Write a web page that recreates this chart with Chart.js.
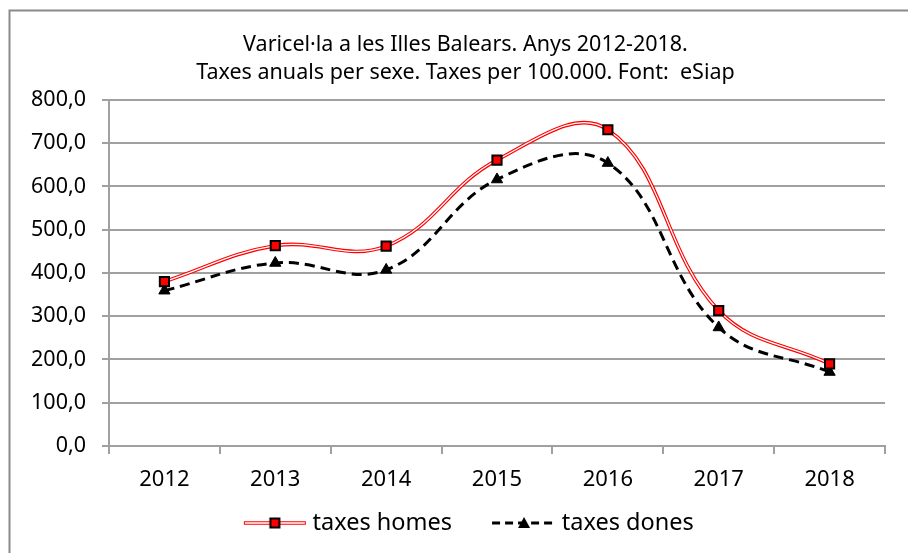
<!DOCTYPE html>
<html>
<head>
<meta charset="utf-8">
<script src="https://cdn.jsdelivr.net/npm/chart.js@4/dist/chart.umd.min.js"></script>
<style>
  html, body { margin: 0; padding: 0; background: #fff; }
  #wrap { width: 908px; height: 553px; }
</style>
</head>
<body>
<div id="wrap"><canvas id="chart" width="908" height="553"></canvas></div>
<script>
// Dades llegides del gràfic
const years = ['2012', '2013', '2014', '2015', '2016', '2017', '2018'];
const taxesHomes = [380, 463, 462, 661, 731, 313, 190];
const taxesDones = [359, 423, 407, 616, 654, 274, 171];
const yTickLabels = ['0,0', '100,0', '200,0', '300,0', '400,0', '500,0', '600,0', '700,0', '800,0'];
const titleLines = ['Varicel·la a les Illes Balears. Anys 2012-2018.', 'Taxes anuals per sexe. Taxes per 100.000. Font:  eSiap'];

const FONT = "'Noto Sans', 'Open Sans', sans-serif";
const GRID = '#a0a0a0';

// Mostres de llegenda (línia + marcador), amb un buit a l'esquerra per separar els elements
function legendSample(kind) {
    const c = document.createElement('canvas');
    c.width = 100; c.height = 16;
    const g = c.getContext('2d');
    const x0 = 36;
    if (kind === 'homes') {
        g.strokeStyle = '#ff0000'; g.lineWidth = 3.6;
        g.beginPath(); g.moveTo(x0 + 1, 8); g.lineTo(x0 + 63, 8); g.stroke();
        g.strokeStyle = '#ffffff'; g.lineWidth = 1.3;
        g.beginPath(); g.moveTo(x0 + 2, 8); g.lineTo(x0 + 62, 8); g.stroke();
        g.fillStyle = '#ff0000'; g.strokeStyle = '#000'; g.lineWidth = 2;
        g.fillRect(x0 + 27.5, 3.5, 9, 9); g.strokeRect(x0 + 27.5, 3.5, 9, 9);
    } else {
        g.strokeStyle = '#000'; g.lineWidth = 3; g.setLineDash([8, 5]);
        g.beginPath(); g.moveTo(x0, 8); g.lineTo(x0 + 64, 8); g.stroke();
        g.setLineDash([]);
        g.fillStyle = '#000';
        g.beginPath(); g.moveTo(x0 + 32, 2); g.lineTo(x0 + 38, 13); g.lineTo(x0 + 26, 13); g.closePath(); g.fill();
    }
    return c;
}

const frame = {
    id: 'frame',
    beforeDraw(chart) {
        const ctx = chart.ctx;
        ctx.save();
        ctx.fillStyle = '#fff';
        ctx.fillRect(0, 0, chart.width, chart.height);
        ctx.strokeStyle = '#8a8a8a';
        ctx.lineWidth = 2;
        ctx.strokeRect(9.5, 10.5, 920, 560);
        ctx.restore();
    }
};

const ctx = document.getElementById('chart').getContext('2d');

new Chart(ctx, {
    type: 'line',
    data: {
        labels: years,
        datasets: [
            {
                label: 'taxes homes',
                data: taxesHomes,
                showLine: false,
                pointStyle: 'rect',
                pointRadius: 6.5,
                pointBackgroundColor: '#ff0000',
                pointBorderColor: '#000',
                pointBorderWidth: 2,
                order: 0
            },
            {
                label: 'taxes dones',
                data: taxesDones,
                borderColor: '#000',
                borderWidth: 3,
                borderDash: [10, 6],
                tension: 0.4,
                pointStyle: 'triangle',
                pointRadius: 6.5,
                pointBackgroundColor: '#000',
                pointBorderColor: '#000',
                pointBorderWidth: 1,
                order: 1
            },
            {
                label: 'homes-core',
                data: taxesHomes,
                borderColor: '#ffffff',
                borderWidth: 1.3,
                tension: 0.4,
                pointRadius: 0,
                order: 2
            },
            {
                label: 'homes-line',
                data: taxesHomes,
                borderColor: '#ff0000',
                borderWidth: 3.6,
                tension: 0.4,
                pointRadius: 0,
                order: 3
            }
        ]
    },
    options: {
        responsive: false,
        animation: false,
        layout: { padding: { left: 23, right: 0, top: 0, bottom: 8.25 } },
        plugins: {
            title: {
                display: true,
                text: titleLines,
                color: '#000',
                font: { family: FONT, size: 21.5, weight: 'normal', lineHeight: 1.3 },
                padding: { top: 31, bottom: 13 }
            },
            legend: {
                position: 'bottom',
                labels: {
                    usePointStyle: true,
                    pointStyleWidth: 88,
                    padding: 10,
                    color: '#000',
                    font: { family: FONT, size: 23.5 },
                    generateLabels: () => [
                        { text: 'taxes homes', pointStyle: legendSample('homes'), fillStyle: '#f00', strokeStyle: '#000', lineWidth: 0, hidden: false, datasetIndex: 0 },
                        { text: 'taxes dones    ', pointStyle: legendSample('dones'), fillStyle: '#000', strokeStyle: '#000', lineWidth: 0, hidden: false, datasetIndex: 1 }
                    ]
                }
            },
            tooltip: { enabled: false }
        },
        scales: {
            x: {
                offset: true,
                afterFit: s => { s.height = 55.25; },
                grid: { offset: true, drawOnChartArea: false, color: GRID, lineWidth: 2, tickLength: 8 },
                border: { color: GRID, width: 2 },
                ticks: { color: '#000', padding: 13, font: { family: FONT, size: 22 } }
            },
            y: {
                min: 0,
                max: 800,
                afterFit: s => { s.width = 86; },
                grid: { color: GRID, lineWidth: 2, tickLength: 7 },
                border: { color: GRID, width: 2 },
                ticks: {
                    stepSize: 100,
                    color: '#000',
                    padding: 16,
                    font: { family: FONT, size: 21.5 },
                    callback: (v, i) => yTickLabels[i]
                }
            },
            // eix buit a la dreta, només per deixar el marge
            yRight: {
                position: 'right',
                grid: { display: false },
                border: { display: false },
                ticks: { display: false },
                afterFit: s => { s.width = 23; }
            }
        }
    },
    plugins: [frame]
});
</script>
</body>
</html>
